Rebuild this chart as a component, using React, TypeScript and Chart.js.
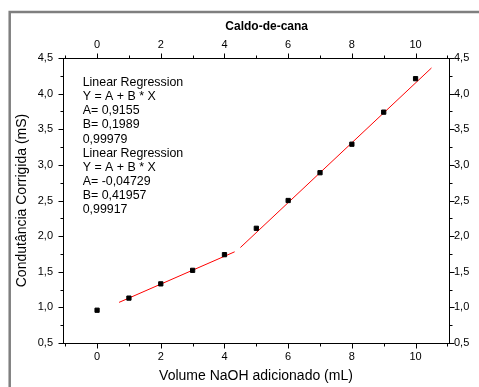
import React, { useEffect, useRef } from 'react';
import { Chart, registerables } from 'chart.js';

Chart.register(...registerables);

// ---- data ----
const VOLUME_ML = [0, 1, 2, 3, 4, 5, 6, 7, 8, 9, 10];
const CONDUTANCIA_MS = [0.96, 1.13, 1.33, 1.52, 1.74, 2.11, 2.5, 2.89, 3.29, 3.74, 4.21];
const FIT1_X = [0.69, 4.32];
const FIT1_Y = [1.07, 1.78];
const FIT2_X = [4.5, 10.5];
const FIT2_Y = [1.84, 4.36];
const X_TICKS = [0, 2, 4, 6, 8, 10];
const X_MINOR = [-1, 1, 3, 5, 7, 9, 11];
const Y_TICKS = [0.5, 1.0, 1.5, 2.0, 2.5, 3.0, 3.5, 4.0, 4.5];
const Y_MINOR = [0.75, 1.25, 1.75, 2.25, 2.75, 3.25, 3.75, 4.25];
const ANNOTATION_LINES = [
  'Linear Regression',
  'Y = A + B * X',
  'A= 0,9155',
  'B= 0,1989',
  '0,99979',
  'Linear Regression',
  'Y = A + B * X',
  'A= -0,04729',
  'B= 0,41957',
  '0,99917',
];
const X_TITLE = 'Volume NaOH adicionado (mL)';
const Y_TITLE = 'Condutância Corrigida (mS)';
const TOP_TITLE = 'Caldo-de-cana';

const X_MIN = -1.07;
const X_MAX = 11.05;
const Y_MIN = 0.5;
const Y_MAX = 4.5;

const FONT = "'Liberation Sans', Arial, sans-serif";

const fmtComma = (v: number) => v.toFixed(1).replace('.', ',');

const framePlugin = {
  id: 'framePlugin',
  afterDraw(chart: any) {
    const ctx = chart.ctx as CanvasRenderingContext2D;
    const { left, right, top, bottom } = chart.chartArea;
    const xs = chart.scales.x;
    const ys = chart.scales.y;
    ctx.save();

    // outer gray border
    ctx.strokeStyle = '#7f7f7f';
    ctx.lineWidth = 2.5;
    ctx.beginPath();
    ctx.moveTo(9.7, 400);
    ctx.lineTo(9.7, 12);
    ctx.lineTo(500, 12);
    ctx.stroke();

    // plot frame
    ctx.strokeStyle = '#000';
    ctx.lineWidth = 1;
    const L = Math.round(left) + 0.5;
    const R = Math.round(right) + 0.5;
    const T = Math.round(top) + 0.5;
    const B = Math.round(bottom) + 0.5;
    ctx.strokeRect(L, T, R - L, B - T);

    ctx.beginPath();
    const xTick = (v: number, len: number) => {
      const px = Math.round(xs.getPixelForValue(v)) + 0.5;
      if (px < L - 0.1 || px > R + 0.1) return;
      ctx.moveTo(px, B);
      ctx.lineTo(px, B + len);
      ctx.moveTo(px, T);
      ctx.lineTo(px, T - len);
    };
    const yTick = (v: number, len: number) => {
      const py = Math.round(ys.getPixelForValue(v)) + 0.5;
      ctx.moveTo(L, py);
      ctx.lineTo(L - len, py);
      ctx.moveTo(R, py);
      ctx.lineTo(R + len, py);
    };
    X_TICKS.forEach((v) => xTick(v, 5));
    X_MINOR.forEach((v) => xTick(v, 3));
    Y_TICKS.forEach((v) => yTick(v, 5));
    Y_MINOR.forEach((v) => yTick(v, 3));
    ctx.stroke();

    // top title
    ctx.fillStyle = '#000';
    ctx.font = `bold 12px ${FONT}`;
    ctx.textAlign = 'center';
    ctx.textBaseline = 'middle';
    ctx.fillText(TOP_TITLE, 266.7, 26.7);

    // regression annotation
    ctx.font = `12.4px ${FONT}`;
    ctx.textAlign = 'left';
    ctx.textBaseline = 'alphabetic';
    ANNOTATION_LINES.forEach((t, i) => {
      ctx.fillText(t, 82.7, 86 + i * 14.14);
    });

    ctx.restore();
  },
};

export default function App() {
  const ref = useRef<HTMLCanvasElement | null>(null);

  useEffect(() => {
    if (!ref.current) return;
    Chart.defaults.font.family = FONT;
    Chart.defaults.color = '#000';

    const points = VOLUME_ML.map((x, i) => ({ x, y: CONDUTANCIA_MS[i] }));
    const fit1 = FIT1_X.map((x, i) => ({ x, y: FIT1_Y[i] }));
    const fit2 = FIT2_X.map((x, i) => ({ x, y: FIT2_Y[i] }));

    const xTicksBuild = (s: any) => {
      s.ticks = X_TICKS.map((value) => ({ value }));
    };
    const yTicksBuild = (s: any) => {
      s.ticks = Y_TICKS.map((value) => ({ value }));
    };
    const noGrid = { display: false, drawTicks: false };
    const noBorder = { display: false };

    const chart = new Chart(ref.current, {
      type: 'scatter',
      data: {
        datasets: [
          {
            label: 'Caldo-de-cana',
            data: points,
            pointStyle: 'rect',
            pointRadius: 3,
            pointBorderWidth: 1,
            backgroundColor: '#000',
            borderColor: '#000',
            showLine: false,
          },
          {
            label: 'fit1',
            data: fit1,
            showLine: true,
            borderColor: '#ff0000',
            borderWidth: 1,
            pointRadius: 0,
          },
          {
            label: 'fit2',
            data: fit2,
            showLine: true,
            borderColor: '#ff0000',
            borderWidth: 1,
            pointRadius: 0,
          },
        ],
      },
      options: {
        responsive: false,
        maintainAspectRatio: false,
        animation: false,
        devicePixelRatio: 1,
        layout: { padding: 0 },
        plugins: {
          legend: { display: false },
          tooltip: { enabled: false },
        },
        scales: {
          x: {
            type: 'linear',
            position: 'bottom',
            min: X_MIN,
            max: X_MAX,
            afterBuildTicks: xTicksBuild,
            afterFit: (s: any) => {
              s.height = 44;
            },
            grid: noGrid,
            border: noBorder,
            ticks: {
              font: { size: 11, family: FONT },
              color: '#000',
              padding: 7.4,
              maxRotation: 0,
              autoSkip: false,
              callback: (v: any) => String(v),
            },
            title: {
              display: true,
              text: X_TITLE,
              font: { size: 14, family: FONT },
              color: '#000',
              padding: { top: 0, bottom: 2 },
            },
          },
          x2: {
            type: 'linear',
            axis: 'x',
            position: 'top',
            min: X_MIN,
            max: X_MAX,
            afterBuildTicks: xTicksBuild,
            afterFit: (s: any) => {
              s.height = 58;
            },
            grid: noGrid,
            border: noBorder,
            ticks: {
              font: { size: 11, family: FONT },
              color: '#000',
              padding: 6.7,
              maxRotation: 0,
              autoSkip: false,
              callback: (v: any) => String(v),
            },
          },
          y: {
            type: 'linear',
            position: 'left',
            min: Y_MIN,
            max: Y_MAX,
            afterBuildTicks: yTicksBuild,
            afterFit: (s: any) => {
              s.width = 63;
            },
            grid: noGrid,
            border: noBorder,
            ticks: {
              font: { size: 11, family: FONT },
              color: '#000',
              padding: 10,
              autoSkip: false,
              callback: (v: any) => fmtComma(Number(v)),
            },
            title: {
              display: true,
              text: Y_TITLE,
              font: { size: 14, family: FONT },
              color: '#000',
              padding: { top: 13.3, bottom: 0 },
            },
          },
          y2: {
            type: 'linear',
            axis: 'y',
            position: 'right',
            min: Y_MIN,
            max: Y_MAX,
            afterBuildTicks: yTicksBuild,
            afterFit: (s: any) => {
              s.width = 30;
            },
            grid: noGrid,
            border: noBorder,
            ticks: {
              font: { size: 11, family: FONT },
              color: '#000',
              padding: 5,
              autoSkip: false,
              callback: (v: any) => fmtComma(Number(v)),
            },
          },
        },
      } as any,
      plugins: [framePlugin],
    });

    return () => chart.destroy();
  }, []);

  return (
    <div style={{ position: 'fixed', left: 0, top: 0, width: 479, height: 387, background: '#fff' }}>
      <canvas ref={ref} width={479} height={387} style={{ display: 'block', width: 479, height: 387 }} />
    </div>
  );
}
